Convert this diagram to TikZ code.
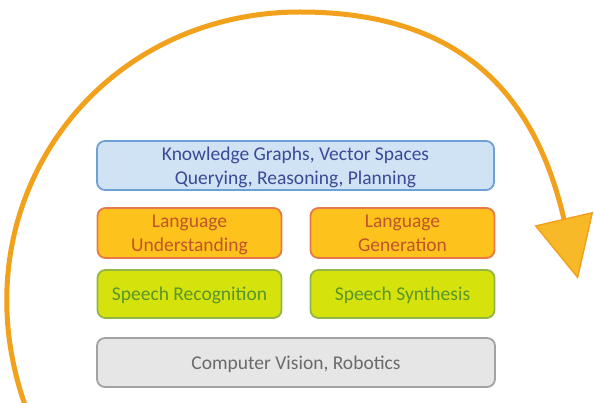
\documentclass[tikz,border=0pt]{standalone}
\usepackage{fontspec}
\setmainfont{Carlito}
\usetikzlibrary{arrows.meta}

\definecolor{loopOrange}{HTML}{F2A11C}
\definecolor{tipYellow}{HTML}{F8B928}
\definecolor{kgFill}{HTML}{CFE3F5}
\definecolor{kgDraw}{HTML}{6E9FD6}
\definecolor{kgText}{HTML}{3A4A96}
\definecolor{langFill}{HTML}{FDC21C}
\definecolor{langDraw}{HTML}{E8794A}
\definecolor{langText}{HTML}{C0542A}
\definecolor{speechFill}{HTML}{D6E20C}
\definecolor{speechDraw}{HTML}{93B446}
\definecolor{speechText}{HTML}{58962A}
\definecolor{cvFill}{HTML}{E6E6E6}
\definecolor{cvDraw}{HTML}{A2A2A2}
\definecolor{cvText}{HTML}{6A6A6A}

\tikzset{
  layer/.style={rectangle, rounded corners=8pt, line width=1.8pt, align=center,
    inner sep=1pt, text depth=0pt, font=\fontsize{19.5}{24}\selectfont},
  kg/.style={layer, fill=kgFill, draw=kgDraw, text=kgText, minimum width=397pt, minimum height=49pt},
  lang/.style={layer, fill=langFill, draw=langDraw, text=langText, minimum width=184pt, minimum height=50pt},
  speech/.style={layer, fill=speechFill, draw=speechDraw, text=speechText, minimum width=184pt, minimum height=48pt},
  cv/.style={layer, fill=cvFill, draw=cvDraw, text=cvText, minimum width=398pt, minimum height=49pt},
  loop/.style={draw=loopOrange, line width=5pt,
    -{Triangle[length=62pt, width=60pt, fill=tipYellow, line width=1.5pt]}}
}

\begin{document}
\begin{tikzpicture}[x=1pt, y=-1pt]
  \useasboundingbox (0,0) rectangle (594,403);

  % Nodes
  \node[kg] (graphs) at (295.5,165.5) {Knowledge Graphs, Vector Spaces\\Querying, Reasoning, Planning};
  \node[lang] (understanding) at (189.5,233) {Language\\Understanding};
  \node[lang] (generation) at (402.5,233) {Language\\Generation};
  \node[speech] (recognition) at (189.5,294) {Speech Recognition};
  \node[speech] (synthesis) at (402.5,294) {Speech Synthesis};
  \node[cv] (vision) at (296,362.5) {Computer Vision, Robotics};

  % Loop
  \coordinate (loopStart) at (25,405);
  \coordinate (loopTop) at (300,12);
  \coordinate (loopEnd) at (578,279);
  \draw[loop] (loopStart) .. controls (-45,205) and (95,12) .. (loopTop)
    .. controls (470,12) and (537,104) .. (loopEnd);
\end{tikzpicture}
\end{document}
